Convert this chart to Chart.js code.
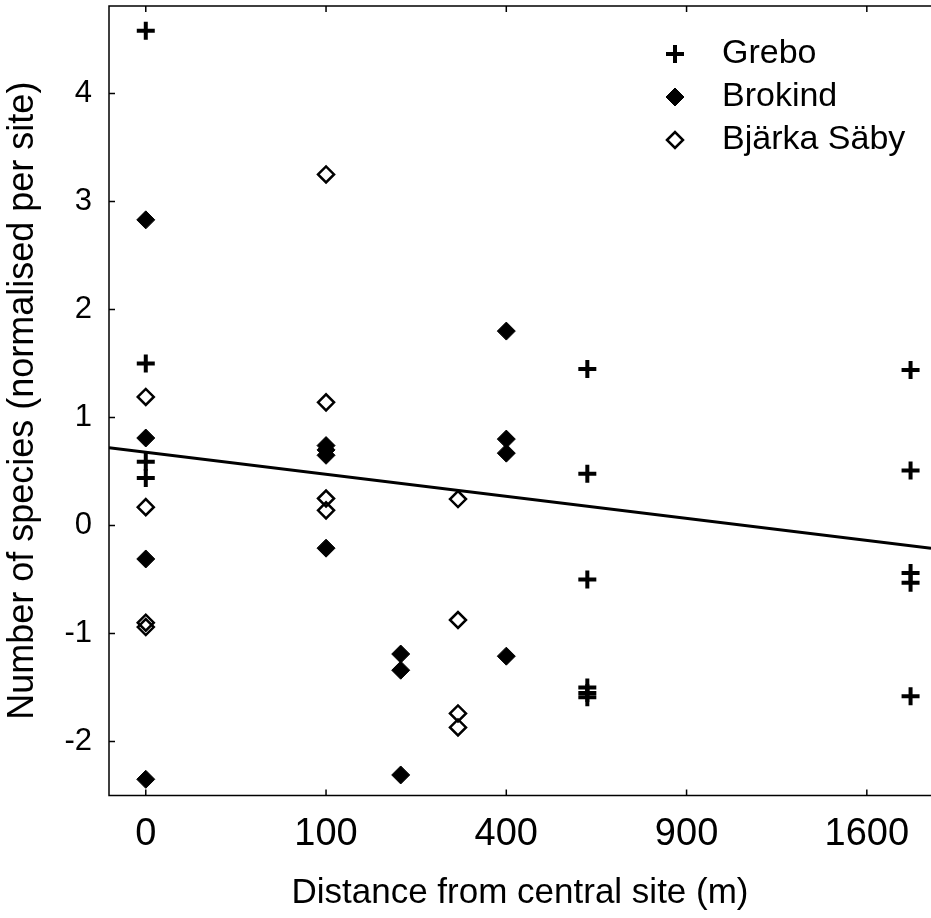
<!DOCTYPE html>
<html lang="en">
<head>
  <meta charset="UTF-8">
  <title>Species vs distance from central site</title>
  <script src="https://cdn.jsdelivr.net/npm/chart.js"></script>
  <style>
    body {
      margin: 0;
      background: #fff;
      overflow: hidden;
    }
    #wrap {
      position: relative;
      width: 931px;
      height: 918px;
    }
  </style>
</head>
<body>
  <div id="wrap"><canvas id="chart"></canvas></div>

  <script>
    // distances (m) and normalised species counts
    const greboDist = [0, 0, 0, 0, 600, 600, 600, 600, 600, 600, 1800, 1800, 1800, 1800, 1800];
    const greboVal  = [4.58, 1.50, 0.59, 0.44, 1.45, 0.48, -0.50, -1.50, -1.55, -1.59, 1.44, 0.51, -0.44, -0.53, -1.58];

    const brokindDist = [0, 0, 0, 0, 100, 100, 100, 100, 200, 200, 200, 400, 400, 400, 400];
    const brokindVal  = [2.83, 0.81, -0.31, -2.35, 0.74, 0.70, 0.65, -0.21, -1.19, -1.34, -2.31, 1.80, 0.80, 0.67, -1.21];

    const bjarkaDist = [0, 0, 0, 0, 100, 100, 100, 100, 300, 300, 300, 300];
    const bjarkaVal  = [1.19, 0.17, -0.90, -0.94, 3.25, 1.14, 0.25, 0.14, 0.245, -0.875, -1.74, -1.87];

    // regression line, value at left and right edge of the plot
    const fitY = [0.72, -0.21];

    const xTicks = [0, 100, 400, 900, 1600];
    const yTicks = [-2, -1, 0, 1, 2, 3, 4];

    // x axis is drawn on a square-root scale
    const X_MIN = -2.04, X_MAX = 43.56;
    const FONT = "'Liberation Sans', Arial, Helvetica, sans-serif";

    const pts = (d, v) => d.map((m, i) => ({ x: Math.sqrt(m), y: v[i] }));

    const legendItems = [
      { text: 'Grebo', style: 'cross', radius: 9, border: 4, fill: '#000' },
      { text: 'Brokind', style: 'rectRot', radius: 9, border: 1, fill: '#000' },
      { text: 'Bjärka Säby', style: 'rectRot', radius: 8, border: 2.5, fill: 'rgba(0,0,0,0)' }
    ];

    const frame = {
      id: 'frame',
      afterDraw(chart) {
        const { ctx, chartArea: a, scales: { x, y } } = chart;
        ctx.save();
        ctx.strokeStyle = '#000';
        ctx.lineWidth = 1.5;
        ctx.beginPath();
        ctx.moveTo(a.right, a.top);
        ctx.lineTo(a.left, a.top);
        ctx.lineTo(a.left, a.bottom);
        ctx.lineTo(a.right, a.bottom);
        xTicks.forEach(t => {
          const px = x.getPixelForValue(Math.sqrt(t));
          ctx.moveTo(px, a.bottom); ctx.lineTo(px, a.bottom - 6);
          ctx.moveTo(px, a.top); ctx.lineTo(px, a.top + 6);
        });
        yTicks.forEach(t => {
          const py = y.getPixelForValue(t);
          ctx.moveTo(a.left, py); ctx.lineTo(a.left + 6, py);
        });
        ctx.stroke();

        // legend, top right inside the axes
        ctx.font = '34px ' + FONT;
        ctx.textBaseline = 'middle';
        legendItems.forEach((it, i) => {
          const ly = a.top + 48 + i * 43;
          ctx.strokeStyle = '#000';
          ctx.fillStyle = it.fill;
          ctx.lineWidth = it.border;
          Chart.helpers.drawPoint(ctx, { pointStyle: it.style, radius: it.radius, borderWidth: it.border, rotation: 0 }, 675, ly);
          ctx.fillStyle = '#000';
          ctx.fillText(it.text, 722, ly);
        });
        ctx.restore();
      }
    };

    const ctx = document.getElementById('chart').getContext('2d');
    new Chart(ctx, {
      type: 'scatter',
      data: {
        datasets: [
          {
            label: 'Grebo',
            data: pts(greboDist, greboVal),
            pointStyle: 'cross',
            pointRadius: 9,
            pointBorderWidth: 4,
            pointBorderColor: '#000',
            pointBackgroundColor: '#000'
          },
          {
            label: 'Brokind',
            data: pts(brokindDist, brokindVal),
            pointStyle: 'rectRot',
            pointRadius: 9,
            pointBorderWidth: 1,
            pointBorderColor: '#000',
            pointBackgroundColor: '#000'
          },
          {
            label: 'Bjärka Säby',
            data: pts(bjarkaDist, bjarkaVal),
            pointStyle: 'rectRot',
            pointRadius: 8,
            pointBorderWidth: 2.5,
            pointBorderColor: '#000',
            pointBackgroundColor: 'rgba(0,0,0,0)'
          },
          {
            type: 'line',
            label: 'fit',
            data: [{ x: X_MIN, y: fitY[0] }, { x: X_MAX, y: fitY[1] }],
            borderColor: '#000',
            borderWidth: 3,
            pointRadius: 0,
            fill: false
          }
        ]
      },
      options: {
        responsive: true,
        maintainAspectRatio: false,
        animation: false,
        events: [],
        layout: { autoPadding: false, padding: { top: 6, left: 0, right: 0, bottom: 0 } },
        plugins: {
          legend: { display: false },
          tooltip: { enabled: false }
        },
        scales: {
          x: {
            type: 'linear',
            min: X_MIN,
            max: X_MAX,
            grid: { display: false, drawTicks: false },
            border: { display: false },
            afterBuildTicks: s => { s.ticks = xTicks.map(t => ({ value: Math.sqrt(t) })); },
            afterFit: s => {
              s.height = 122.5;
              s.paddingLeft = 0;
              s.paddingRight = 0;
            },
            ticks: {
              autoSkip: false,
              maxRotation: 0,
              padding: 16,
              color: '#000',
              font: { size: 38, family: FONT },
              callback: (v, i) => String(xTicks[i])
            },
            title: {
              display: true,
              text: 'Distance from central site (m)',
              color: '#000',
              font: { size: 35, family: FONT },
              padding: { top: 0, bottom: 4 }
            }
          },
          y: {
            type: 'linear',
            min: -2.5,
            max: 4.81,
            grid: { display: false, drawTicks: false },
            border: { display: false },
            afterBuildTicks: s => { s.ticks = yTicks.map(t => ({ value: t })); },
            afterFit: s => {
              s.width = 109;
              s.paddingTop = 0;
              s.paddingBottom = 0;
            },
            ticks: {
              padding: 17,
              color: '#000',
              font: { size: 31, family: FONT },
              callback: (v, i) => String(yTicks[i])
            },
            title: {
              display: true,
              text: 'Number of species (normalised per site)',
              color: '#000',
              font: { size: 36, family: FONT },
              padding: { top: 1, bottom: 0 }
            }
          }
        }
      },
      plugins: [frame]
    });
  </script>
</body>
</html>
